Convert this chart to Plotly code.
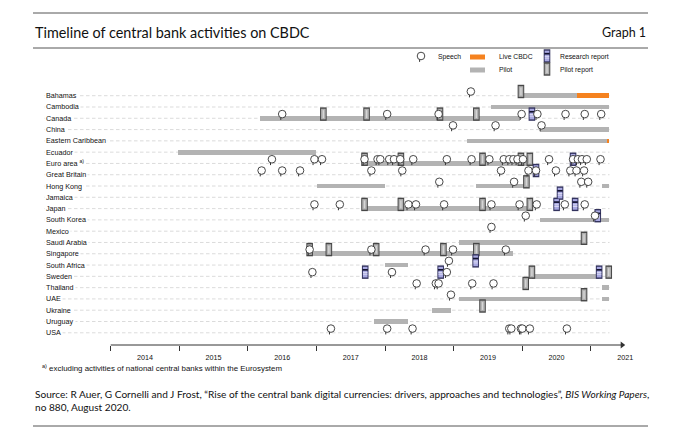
import plotly.graph_objects as go

# ---------------- data ----------------
countries = ["Bahamas", "Cambodia", "Canada", "China", "Eastern Caribbean", "Ecuador",
             "Euro area", "Great Britain", "Hong Kong", "Jamaica", "Japan", "South Korea",
             "Mexico", "Saudi Arabia", "Singapore", "South Africa", "Sweden", "Thailand",
             "UAE", "Ukraine", "Uruguay", "USA"]
country_labels = [c if c != "Euro area" else "Euro area <sup>a)</sup>" for c in countries]

pilot_country = ["Bahamas", "Cambodia", "Canada", "China", "Eastern Caribbean", "Ecuador",
                 "Euro area", "Hong Kong", "Hong Kong", "Hong Kong", "Japan", "South Korea",
                 "Saudi Arabia", "Singapore", "South Africa", "Sweden", "Thailand", "UAE", "UAE",
                 "Ukraine", "Uruguay"]
pilot_start = [2019.48, 2019.05, 2015.67, 2019.76, 2018.70, 2014.48,
               2017.22, 2016.50, 2018.83, 2020.66, 2017.22, 2019.76,
               2018.58, 2016.40, 2017.50, 2019.64, 2020.66, 2018.58, 2020.66,
               2018.18, 2017.34]
pilot_end = [2020.30, 2020.76, 2019.47, 2020.76, 2020.74, 2016.49,
             2019.62, 2017.50, 2019.56, 2020.77, 2019.61, 2020.77,
             2020.40, 2019.36, 2017.83, 2020.62, 2020.77, 2020.40, 2020.77,
             2018.46, 2017.84]

live_country = ["Bahamas", "Eastern Caribbean"]
live_start = [2020.30, 2020.74]
live_end = [2020.77, 2020.77]

speech_country = (["Bahamas"]
                  + ["Canada"] * 8
                  + ["China"] * 3
                  + ["Euro area"] * 24
                  + ["Great Britain"] * 12
                  + ["Hong Kong"] * 4
                  + ["Japan"] * 10
                  + ["South Korea"] * 2
                  + ["Mexico"]
                  + ["Singapore"] * 5
                  + ["South Africa"]
                  + ["Sweden"] * 3
                  + ["Thailand"] * 5
                  + ["UAE"]
                  + ["USA"] * 9)
speech_date = ([2018.75]
               + [2016.00, 2017.53, 2018.28, 2019.49, 2019.72, 2020.13, 2020.41, 2020.65]
               + [2018.49, 2019.11, 2019.78]
               + [2015.85, 2016.47, 2016.58, 2017.20, 2017.39, 2017.43, 2017.56, 2017.63,
                  2017.72, 2017.91, 2018.40, 2018.76, 2019.02, 2019.23, 2019.31, 2019.37,
                  2019.43, 2019.51, 2019.89, 2020.24, 2020.31, 2020.37, 2020.44, 2020.64]
               + [2015.70, 2016.00, 2016.26, 2017.30, 2017.75, 2019.19, 2019.59, 2019.70,
                  2019.99, 2020.20, 2020.29, 2020.40]
               + [2018.29, 2019.38, 2020.36, 2020.46]
               + [2016.47, 2016.84, 2017.84, 2017.95, 2018.36, 2019.05, 2019.46, 2019.71,
                  2020.12, 2020.41]
               + [2019.55, 2020.56]
               + [2019.05]
               + [2016.40, 2017.30, 2018.09, 2018.49, 2019.26]
               + [2018.43]
               + [2016.44, 2017.60, 2018.40]
               + [2017.96, 2018.24, 2018.28, 2018.77, 2019.08]
               + [2018.46]
               + [2016.71, 2017.53, 2017.90, 2019.31, 2019.34, 2019.48, 2019.50, 2019.61,
                  2020.15])

pilot_report_country = (["Bahamas"] + ["Canada"] * 4 + ["Euro area"] * 5 + ["Hong Kong"]
                        + ["Japan"] * 4 + ["Saudi Arabia"] + ["Singapore"] * 5
                        + ["Sweden"] * 2 + ["Thailand", "UAE", "Ukraine"])
pilot_report_date = ([2019.48] + [2016.60, 2017.23, 2018.30, 2018.83]
                     + [2017.20, 2017.73, 2018.92, 2019.48, 2019.61] + [2019.56]
                     + [2017.20, 2017.73, 2018.92, 2019.61] + [2020.40]
                     + [2016.40, 2016.68, 2017.37, 2018.35, 2018.83]
                     + [2019.64, 2020.76] + [2019.55, 2020.40, 2018.92])

research_report_country = ["Canada", "Euro area", "Great Britain", "Jamaica", "Japan", "Japan",
                           "South Korea", "South Africa", "Sweden", "Sweden", "Sweden"]
research_report_date = [2019.64, 2020.24, 2019.70, 2020.05, 2020.00, 2020.27,
                        2020.60, 2018.82, 2017.21, 2018.31, 2020.62]

year_labels = [2014, 2015, 2016, 2017, 2018, 2019, 2020, 2021]
axis_ticks = [2013.5, 2014.5, 2015.5, 2016.5, 2017.5, 2018.5, 2019.5, 2020.5]

# ---------------- geometry / style ----------------
W, H = 680, 435
OFF = 8                   # page body margin of the browser
PL, PR = 40, 630          # plot area, px (as seen in the page)
PT, PB = 48, 345
MAIN_TOP = 80
PX_PER_YEAR = 68.6
X2014_PX = 145.0
ROW0_PX = 95.7
ROW_PX = 11.29

GREY = "#b3b3b3"
ORANGE = "#f5821f"
TXT = "#111111"
LABEL_FONT = "Liberation Sans"


def year_at(px):
    return 2014 + (px - X2014_PX) / PX_PER_YEAR


def pxx(px):
    return (px - PL) / (PR - PL)


def pxy(py):
    return (PB - py) / (PB - PT)


row_of = {c: i for i, c in enumerate(countries)}
KX = 1 / PX_PER_YEAR
KY = 1 / ROW_PX
LIFT = 4.2 * KY
Y_AXIS_ROW = (PB - ROW0_PX) / ROW_PX

fig = go.Figure()

# bars
fig.add_trace(go.Bar(orientation="h", y=[row_of[c] for c in pilot_country],
                     base=pilot_start, x=[e - s for s, e in zip(pilot_start, pilot_end)],
                     width=4.7 * KY, marker=dict(color=GREY, line=dict(width=0)),
                     hoverinfo="skip", showlegend=False))
fig.add_trace(go.Bar(orientation="h", y=[row_of[c] for c in live_country],
                     base=live_start, x=[e - s for s, e in zip(live_start, live_end)],
                     width=4.7 * KY, marker=dict(color=ORANGE, line=dict(width=0)),
                     hoverinfo="skip", showlegend=False))


def mk(xs, ys, symbol, size, width, color, xa="x", ya="y"):
    return go.Scatter(x=xs, y=ys, mode="markers", xaxis=xa, yaxis=ya,
                      marker=dict(symbol=symbol, size=size, color=color,
                                  line=dict(width=width, color=color)),
                      hoverinfo="skip", showlegend=False, cliponaxis=False)


def add_report(xs, ys, kind, xa="x", ya="y", ky=KY):
    if kind == "pilot":
        outer, inner = "#474747", "#b0b0b0"
        fig.add_trace(mk(xs, ys, "line-ns-open", 9.6, 6.6, outer, xa, ya))
        fig.add_trace(mk(xs, ys, "line-ns-open", 7.6, 4.6, inner, xa, ya))
        fig.add_trace(mk(xs, ys, "line-ns-open", 5.6, 1.4, "#d6d6d6", xa, ya))
    else:
        outer, inner = "#33335e", "#a9a9e2"
        fig.add_trace(mk(xs, ys, "line-ns-open", 9.6, 6.6, outer, xa, ya))
        fig.add_trace(mk(xs, ys, "line-ns-open", 7.6, 4.6, inner, xa, ya))
        fig.add_trace(mk(xs, [y - 2.3 * ky for y in ys], "line-ew-open", 3.8, 1.7, "#121230", xa, ya))
        fig.add_trace(mk(xs, [y + 0.4 * ky for y in ys], "line-ew-open", 3.2, 0.8, "#e4e4f7", xa, ya))
        fig.add_trace(mk(xs, [y + 2.1 * ky for y in ys], "line-ew-open", 3.2, 0.8, "#e4e4f7", xa, ya))


def add_speech(xs, ys, xa="x", ya="y", kx=KX, ky=KY):
    fig.add_trace(mk([x - 1.4 * kx for x in xs], [y + 3.9 * ky for y in ys],
                     "line-ns-open", 2.8, 1.0, "#333333", xa, ya))
    fig.add_trace(go.Scatter(x=xs, y=ys, mode="markers", xaxis=xa, yaxis=ya,
                             marker=dict(symbol="circle", size=7.6, color="white",
                                         line=dict(width=0.9, color="#333333")),
                             hoverinfo="skip", showlegend=False, cliponaxis=False))


add_report(pilot_report_date, [row_of[c] - LIFT for c in pilot_report_country], "pilot")
add_report(research_report_date, [row_of[c] - LIFT for c in research_report_country], "research")
add_speech(speech_date, [row_of[c] - LIFT for c in speech_country])

# axis arrow head
fig.add_trace(mk([year_labels[-1] - 3 * KX], [Y_AXIS_ROW], "triangle-right", 6, 0, "#333333"))

# ---------------- legend (mini axes in px units) ----------------
LEG_X0, LEG_X1, LEG_Y0, LEG_Y1 = 405, 630, 50, 78
r1, r2 = 57, 70
add_speech([421], [r1 - 1], "x2", "y2", 1, 1)
fig.add_trace(go.Scatter(x=[470, 485], y=[r1, r1], mode="lines", xaxis="x2", yaxis="y2",
                         line=dict(color=ORANGE, width=5), hoverinfo="skip", showlegend=False))
fig.add_trace(go.Scatter(x=[470, 485], y=[r2, r2], mode="lines", xaxis="x2", yaxis="y2",
                         line=dict(color=GREY, width=5), hoverinfo="skip", showlegend=False))
add_report([547], [r1 - 1], "research", "x2", "y2", 1)
add_report([547], [r2 - 1], "pilot", "x2", "y2", 1)

annotations = []
for txt, lx, ly in [("Speech", 436, r1), ("Live CBDC", 497, r1), ("Research report", 558, r1),
                    ("Pilot", 497, r2), ("Pilot report", 558, r2)]:
    annotations.append(dict(x=lx, y=ly, xref="x2", yref="y2", text=txt, showarrow=False,
                            xanchor="left", yanchor="middle",
                            font=dict(family=LABEL_FONT, size=6.8, color=TXT)))

# country labels
for i, lab in enumerate(country_labels):
    annotations.append(dict(x=pxx(44), y=i, xref="paper", yref="y", text=lab, showarrow=False,
                            xanchor="left", yanchor="middle", bgcolor="white", borderpad=1,
                            font=dict(family=LABEL_FONT, size=7.2, color=TXT)))

# title, footnote, source
annotations += [
    dict(x=pxx(33), y=pxy(33), xref="paper", yref="paper", xanchor="left", yanchor="middle",
         text="Timeline of central bank activities on CBDC", showarrow=False,
         font=dict(family="Lato", size=14.4, color=TXT)),
    dict(x=pxx(648), y=pxy(33), xref="paper", yref="paper", xanchor="right", yanchor="middle",
         text="Graph 1", showarrow=False, font=dict(family="Lato", size=12.5, color=TXT)),
    dict(x=pxx(40), y=pxy(368), xref="paper", yref="paper", xanchor="left", yanchor="middle",
         text="<sup>a)</sup> excluding activities of national central banks within the Eurosystem",
         showarrow=False, font=dict(family=LABEL_FONT, size=7.9, color=TXT)),
    dict(x=pxx(33), y=pxy(386), xref="paper", yref="paper", xanchor="left", yanchor="top",
         align="left", showarrow=False, font=dict(family="Lato", size=10.1, color=TXT),
         text="Source: R Auer, G Cornelli and J Frost, \u201cRise of the central bank digital "
              "currencies: drivers, approaches and technologies\u201d, <i>BIS Working Papers</i>,"
              "<br>no 880, August 2020."),
]

shapes = []
for i in range(len(countries)):
    shapes.append(dict(type="line", xref="x", yref="y", x0=year_at(44), x1=year_at(609.5),
                       y0=i, y1=i, layer="below",
                       line=dict(color="#d2d2d2", width=0.8, dash="3.5px,2.5px")))
shapes.append(dict(type="line", xref="x", yref="paper", x0=axis_ticks[0],
                   x1=year_labels[-1] - 3 * KX, y0=0, y1=0,
                   line=dict(color="#333333", width=1)))
for py in (13, 48, 426):
    shapes.append(dict(type="line", xref="paper", yref="paper", x0=pxx(33), x1=pxx(648),
                       y0=pxy(py), y1=pxy(py), line=dict(color="#555555", width=1)))

main_dom_top = (PB - MAIN_TOP) / (PB - PT)
fig.update_layout(
    width=W, height=H,
    margin=dict(l=PL - OFF, r=W - PR + OFF, t=PT - OFF, b=H - PB + OFF),
    paper_bgcolor="white", plot_bgcolor="white", barmode="overlay", bargap=0,
    showlegend=False, annotations=annotations, shapes=shapes,
    xaxis=dict(range=[year_at(PL), year_at(PR)], domain=[0, 1], anchor="y",
               tickvals=year_labels, ticktext=[str(y) for y in year_labels],
               ticks="outside", ticklen=5, tickcolor="rgba(0,0,0,0)",
               tickfont=dict(family=LABEL_FONT, size=7.2, color=TXT),
               showgrid=False, zeroline=False, showline=False,
               minor=dict(tickvals=axis_ticks, ticks="outside", ticklen=5, tickwidth=1,
                          tickcolor="#333333", showgrid=False)),
    yaxis=dict(range=[Y_AXIS_ROW, (MAIN_TOP - ROW0_PX) / ROW_PX],
               domain=[0, main_dom_top], anchor="x",
               showticklabels=False, showgrid=False, zeroline=False, showline=False, ticks=""),
    xaxis2=dict(range=[LEG_X0, LEG_X1], domain=[pxx(LEG_X0), 1], anchor="y2", visible=False),
    yaxis2=dict(range=[LEG_Y1, LEG_Y0], domain=[pxy(LEG_Y1), pxy(LEG_Y0)], anchor="x2",
                visible=False),
)

fig.write_html("out.html")
